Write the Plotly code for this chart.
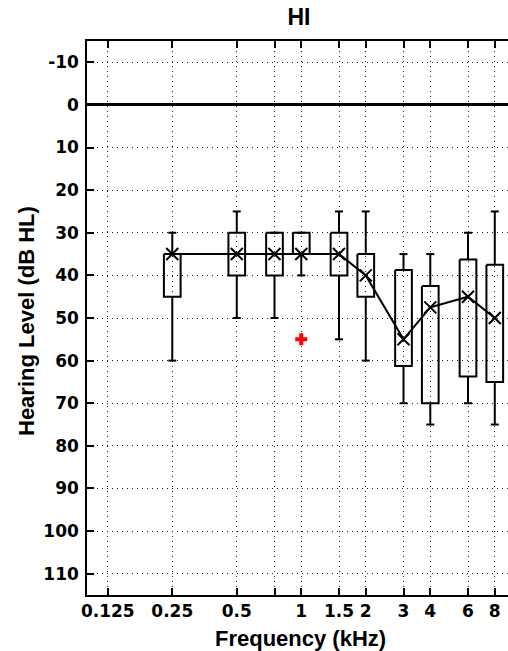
import plotly.graph_objects as go

# Audiometric frequencies (kHz) and box-plot statistics of hearing level (dB HL)
freqs = [0.25, 0.5, 0.75, 1, 1.5, 2, 3, 4, 6, 8]
whisker_lo = [30, 25, 30, 30, 25, 25, 35, 35, 30, 25]
q1 = [35, 30, 30, 30, 30, 35, 38.75, 42.5, 36.25, 37.5]
median = [35, 35, 35, 35, 35, 40, 55, 47.5, 45, 50]
q3 = [45, 40, 40, 35, 40, 45, 61.25, 70, 63.75, 65]
whisker_hi = [60, 50, 50, 40, 55, 60, 70, 75, 70, 75]

outlier_freq = [1]
outlier_level = [55]

xtick_vals = [0.125, 0.25, 0.5, 0.75, 1, 1.5, 2, 3, 4, 6, 8]
xtick_text = ["0.125", "0.25", "0.5", "", "1", "1.5", "2", "3", "4", "6", "8"]
ytick_vals = list(range(-10, 111, 10))
ytick_text = [str(v).replace("-", "-") for v in ytick_vals]

BOX_HALF = 2 ** 0.1295   # multiplicative half-width of a box on the log axis
CAP_HALF = 2 ** 0.062    # multiplicative half-width of a whisker cap

box_x, box_y = [], []
whisk_x, whisk_y = [], []
for f, wl, a, b, wh in zip(freqs, whisker_lo, q1, q3, whisker_hi):
    l, r = f / BOX_HALF, f * BOX_HALF
    box_x += [l, r, r, l, l, None]
    box_y += [a, a, b, b, a, None]
    cl, cr = f / CAP_HALF, f * CAP_HALF
    whisk_x += [f, f, None, f, f, None, cl, cr, None, cl, cr, None]
    whisk_y += [a, wl, None, b, wh, None, wl, wl, None, wh, wh, None]

fig = go.Figure()
fig.add_trace(go.Scatter(x=whisk_x, y=whisk_y, mode="lines",
                         line=dict(color="black", width=2), hoverinfo="skip"))
fig.add_trace(go.Scatter(x=box_x, y=box_y, mode="lines",
                         line=dict(color="black", width=2), hoverinfo="skip"))
fig.add_trace(go.Scatter(x=freqs, y=median, mode="lines+markers",
                         line=dict(color="black", width=2),
                         marker=dict(symbol="x-thin-open", size=12,
                                     line=dict(color="black", width=2))))
fig.add_trace(go.Scatter(x=outlier_freq, y=outlier_level, mode="markers",
                         marker=dict(symbol="cross", size=10, color="red",
                                     line=dict(width=0))))

tick_font = dict(family="DejaVu Sans", size=17, color="black", weight="bold")
label_font = dict(family="Liberation Sans, Arial", size=22, color="black", weight="bold")

fig.update_layout(
    width=508, height=651,
    margin=dict(l=87, r=0, t=41, b=56),
    paper_bgcolor="white", plot_bgcolor="white",
    showlegend=False,
    title=dict(text="HI", font=dict(family="Liberation Sans, Arial", size=23,
                                    color="black", weight="bold"),
               xref="container", yref="container",
               x=299 / 508, y=1 - 17 / 651, xanchor="center", yanchor="middle"),
    xaxis=dict(type="log", range=[-1, 0.9648],
               tickvals=xtick_vals, ticktext=xtick_text, tickfont=tick_font,
               ticks="inside", ticklen=7, tickwidth=1.5, tickcolor="black",
               showline=True, linecolor="black", linewidth=1.5, mirror="ticks",
               showgrid=True, gridcolor="#222", gridwidth=1, griddash="1px,4px",
               zeroline=False, ticklabelstandoff=0),
    yaxis=dict(range=[115, -15], tickvals=ytick_vals, ticktext=ytick_text,
               tickfont=tick_font,
               ticks="inside", ticklen=7, tickwidth=1.5, tickcolor="black",
               showline=True, linecolor="black", linewidth=1.5, mirror=False,
               showgrid=True, gridcolor="#222", gridwidth=1, griddash="1px,4px",
               zeroline=True, zerolinecolor="black", zerolinewidth=3,
               ticklabelstandoff=3),
    annotations=[
        dict(text="Frequency (kHz)", xref="paper", yref="paper",
             x=(300 - 87) / 421, y=-(638 - 595) / 554,
             xanchor="center", yanchor="middle", showarrow=False, font=label_font),
        dict(text="Hearing Level (dB HL)", xref="paper", yref="paper",
             x=(26 - 87) / 421, y=1 - (321 - 41) / 554, textangle=-90,
             xanchor="center", yanchor="middle", showarrow=False, font=label_font),
    ],
)

fig.write_html("out.html")
